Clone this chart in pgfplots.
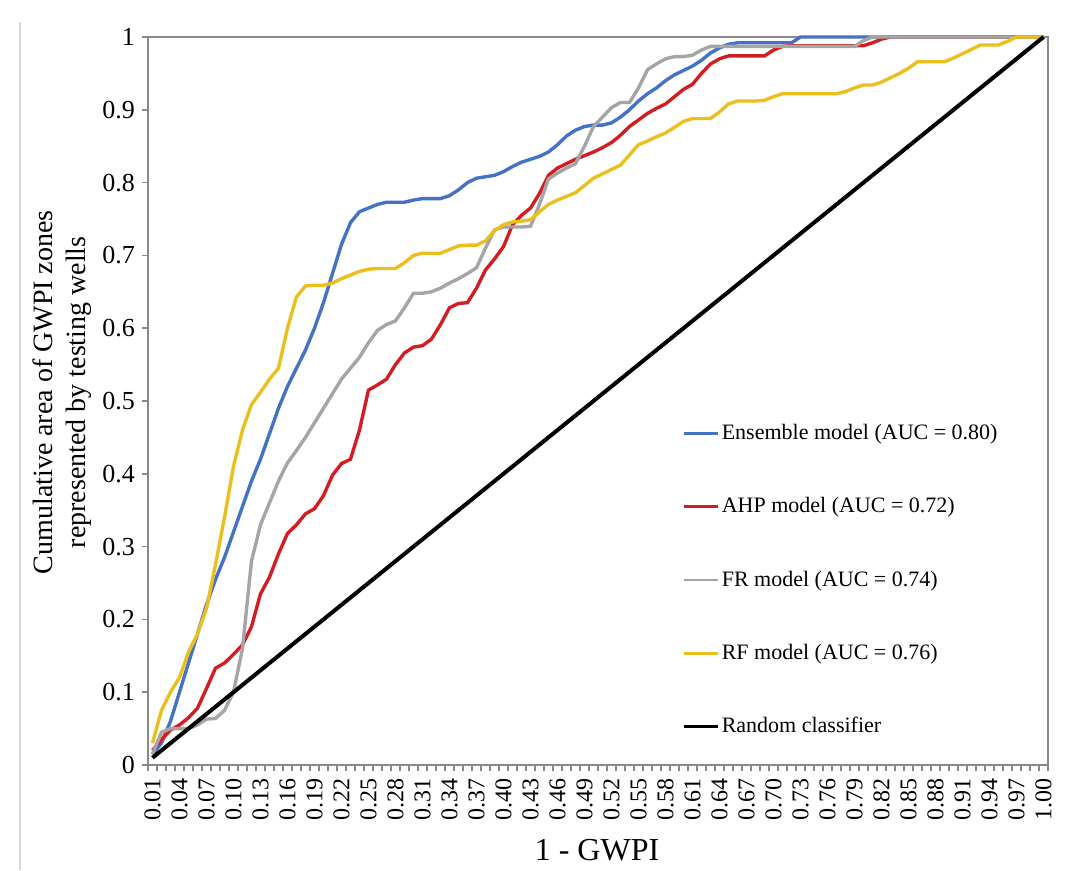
\documentclass[border=0pt]{standalone}
\usepackage{pgfplots}
\pgfplotsset{compat=1.18}
\usepackage{pgfplotstable}
\usepackage{fontspec}
\setmainfont{Liberation Serif}

\definecolor{ensblue}{RGB}{68,114,196}
\definecolor{ahpred}{RGB}{210,30,35}
\definecolor{frgray}{RGB}{165,165,165}
\definecolor{rfgold}{RGB}{235,192,30}
\definecolor{axgray}{RGB}{137,137,137}

% x = 1 - GWPI, E = ensemble, A = AHP, F = FR, R = RF
\pgfplotstableread{
x    E     A     F     R
0.01 0.015 0.020 0.015 0.030
0.02 0.030 0.035 0.045 0.075
0.03 0.060 0.048 0.050 0.100
0.04 0.100 0.055 0.050 0.120
0.05 0.140 0.065 0.050 0.155
0.06 0.180 0.078 0.055 0.180
0.07 0.220 0.105 0.063 0.215
0.08 0.255 0.133 0.064 0.275
0.09 0.285 0.140 0.075 0.340
0.10 0.320 0.152 0.100 0.410
0.11 0.355 0.165 0.160 0.460
0.12 0.390 0.190 0.280 0.495
0.13 0.420 0.235 0.330 0.512
0.14 0.455 0.258 0.360 0.530
0.15 0.490 0.290 0.390 0.545
0.16 0.520 0.318 0.415 0.600
0.17 0.545 0.330 0.432 0.643
0.18 0.570 0.345 0.450 0.658
0.19 0.600 0.352 0.470 0.659
0.20 0.635 0.370 0.490 0.659
0.21 0.675 0.398 0.510 0.662
0.22 0.715 0.414 0.530 0.668
0.23 0.745 0.420 0.545 0.673
0.24 0.760 0.460 0.560 0.678
0.25 0.765 0.515 0.580 0.681
0.26 0.770 0.522 0.597 0.682
0.27 0.773 0.530 0.605 0.682
0.28 0.773 0.550 0.610 0.682
0.29 0.773 0.566 0.628 0.690
0.30 0.776 0.574 0.648 0.700
0.31 0.778 0.576 0.648 0.703
0.32 0.778 0.585 0.650 0.703
0.33 0.778 0.605 0.655 0.703
0.34 0.782 0.628 0.662 0.708
0.35 0.790 0.634 0.668 0.713
0.36 0.800 0.635 0.675 0.714
0.37 0.806 0.655 0.683 0.714
0.38 0.808 0.680 0.710 0.720
0.39 0.810 0.695 0.735 0.734
0.40 0.815 0.712 0.739 0.742
0.41 0.822 0.742 0.739 0.746
0.42 0.828 0.755 0.739 0.747
0.43 0.832 0.765 0.740 0.749
0.44 0.836 0.785 0.770 0.760
0.45 0.842 0.810 0.805 0.770
0.46 0.852 0.820 0.813 0.776
0.47 0.864 0.826 0.820 0.781
0.48 0.872 0.832 0.826 0.786
0.49 0.877 0.837 0.850 0.796
0.50 0.879 0.842 0.877 0.806
0.51 0.879 0.848 0.890 0.812
0.52 0.882 0.855 0.903 0.818
0.53 0.890 0.865 0.910 0.824
0.54 0.900 0.877 0.910 0.838
0.55 0.912 0.886 0.930 0.852
0.56 0.922 0.895 0.955 0.857
0.57 0.930 0.902 0.963 0.863
0.58 0.940 0.908 0.970 0.868
0.59 0.948 0.918 0.973 0.876
0.60 0.954 0.928 0.973 0.884
0.61 0.960 0.935 0.975 0.888
0.62 0.968 0.950 0.982 0.888
0.63 0.978 0.963 0.987 0.888
0.64 0.985 0.970 0.987 0.897
0.65 0.990 0.974 0.987 0.908
0.66 0.992 0.974 0.987 0.912
0.67 0.992 0.974 0.987 0.912
0.68 0.992 0.974 0.987 0.912
0.69 0.992 0.974 0.987 0.913
0.70 0.992 0.982 0.987 0.918
0.71 0.992 0.987 0.987 0.922
0.72 0.992 0.988 0.987 0.922
0.73 1.000 0.988 0.987 0.922
0.74 1.000 0.988 0.987 0.922
0.75 1.000 0.988 0.987 0.922
0.76 1.000 0.988 0.987 0.922
0.77 1.000 0.988 0.987 0.922
0.78 1.000 0.988 0.987 0.925
0.79 1.000 0.988 0.987 0.930
0.80 1.000 0.988 0.995 0.934
0.81 1.000 0.992 1.000 0.934
0.82 1.000 0.997 1.000 0.938
0.83 1.000 1.000 1.000 0.944
0.84 1.000 1.000 1.000 0.950
0.85 1.000 1.000 1.000 0.957
0.86 1.000 1.000 1.000 0.966
0.87 1.000 1.000 1.000 0.966
0.88 1.000 1.000 1.000 0.966
0.89 1.000 1.000 1.000 0.966
0.90 1.000 1.000 1.000 0.971
0.91 1.000 1.000 1.000 0.977
0.92 1.000 1.000 1.000 0.983
0.93 1.000 1.000 1.000 0.989
0.94 1.000 1.000 1.000 0.989
0.95 1.000 1.000 1.000 0.989
0.96 1.000 1.000 1.000 0.994
0.97 1.000 1.000 1.000 1.000
0.98 1.000 1.000 1.000 1.000
0.99 1.000 1.000 1.000 1.000
1.00 1.000 1.000 1.000 1.000
}\roc

\begin{document}
\begin{tikzpicture}
\begin{axis}[
    width=450pt, height=364pt, scale only axis,
    xmin=0.005, xmax=1.005, ymin=0, ymax=1,
    clip=false,
    axis line style={axgray, line width=0.8pt},
    tick align=outside,
    major tick length=3pt, minor tick length=3pt,
    tick style={axgray, line width=0.8pt},
    xtick={0.01,0.04,0.07,0.10,0.13,0.16,0.19,0.22,0.25,0.28,0.31,0.34,0.37,0.40,0.43,0.46,0.49,
           0.52,0.55,0.58,0.61,0.64,0.67,0.70,0.73,0.76,0.79,0.82,0.85,0.88,0.91,0.94,0.97,1.00},
    minor xtick={0.005,0.015,...,1.006},
    major x tick style={draw=none},
    ytick={0,0.1,0.2,0.3,0.4,0.5,0.6,0.7,0.8,0.9,1},
    xtick pos=bottom, ytick pos=left,
    /pgf/number format/assume math mode=true,
    xticklabel style={font=\fontsize{12}{14}\selectfont, rotate=90, anchor=east,
        /pgf/number format/.cd, fixed, fixed zerofill, precision=2},
    yticklabel style={font=\fontsize{13}{15}\selectfont, /pgf/number format/fixed},
    xlabel={1 - GWPI},
    xlabel style={font=\fontsize{16}{19}\selectfont, at={(axis description cs:0.499,-0.117)}, anchor=center},
    ylabel={Cumulative area of GWPI zones\\represented by testing wells},
    ylabel style={font=\fontsize{14}{16.5}\selectfont, align=center, at={(axis description cs:-0.0956,0.512)}, anchor=center},
    legend style={at={(axis description cs:0.594,0.474)}, anchor=north west, draw=none, fill=none,
        inner sep=0pt, row sep=23.5pt, font=\fontsize{11}{13}\selectfont, nodes={inner xsep=1pt}},
    legend cell align=left,
    legend image code/.code={\draw[#1, line width=1.4pt] (0pt,0pt) -- (17pt,0pt);},
]
\addplot[ensblue, line width=1.7pt] table[x=x, y=E] {\roc};
\addlegendentry{Ensemble model (AUC = 0.80)}
\addplot[ahpred, line width=1.7pt] table[x=x, y=A] {\roc};
\addlegendentry{AHP model (AUC = 0.72)}
\addplot[frgray, line width=1.7pt] table[x=x, y=F] {\roc};
\addlegendentry{FR model (AUC = 0.74)}
\addplot[rfgold, line width=1.7pt] table[x=x, y=R] {\roc};
\addlegendentry{RF model (AUC = 0.76)}
\addplot[black, line width=2pt] coordinates {(0.01,0.01) (1.00,1.00)};
\addlegendentry{Random classifier}
\draw[gray!30, line width=0.8pt] (rel axis cs:-0.1422,-0.1442) -- (rel axis cs:-0.1422,1.0206);
\coordinate (bbsw) at (rel axis cs:-0.1644,-0.1442);
\coordinate (bbne) at (rel axis cs:1.0433,1.0508);
\end{axis}
\path (bbsw) rectangle (bbne);
\end{tikzpicture}
\end{document}
